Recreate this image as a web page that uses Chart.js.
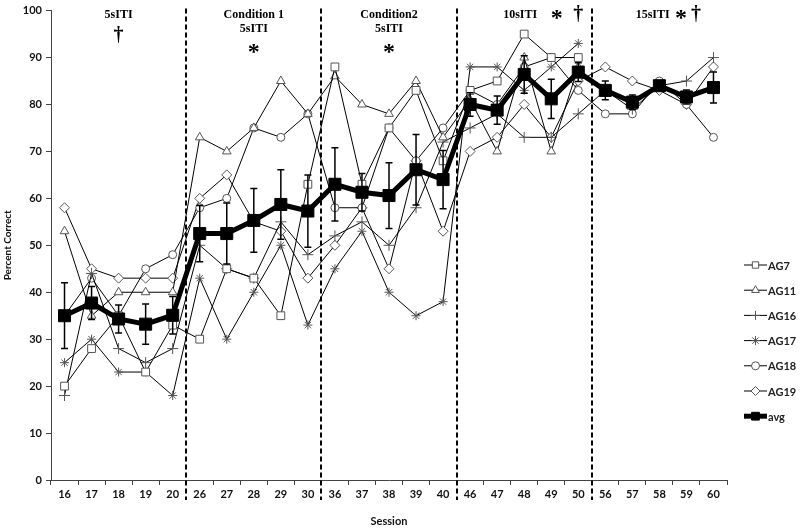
<!DOCTYPE html>
<html>
<head>
<meta charset="utf-8">
<script src="https://cdn.jsdelivr.net/npm/chart.js@4"></script>
<style>
  body { margin:0; background:#fff; }
  #wrap { width:800px; height:532px; }
</style>
</head>
<body>
<div id="wrap"><canvas id="myChart" width="800" height="532"></canvas></div>
<script>
// datos
const sesiones = ['16','17','18','19','20','26','27','28','29','30','36','37','38','39','40','46','47','48','49','50','56','57','58','59','60'];
const ag7  = [20,28,35,23,33, 30,45,43,35,63, 88,63,75,83,68, 83,85,95,90,90, null,null,null,null,null];
const ag11 = [53,35,40,40,40, 73,70,75,85,78, 86,80,78,85,73, 81,70,90,70,88, null,null,null,null,null];
const ag16 = [18,44,28,25,28, 50,45,43,55,48, 52,55,50,58,72, 75,78,73,73,78, 83,79,84,85,90];
const ag17 = [25,30,23,23,18, 43,30,40,50,33, 45,53,40,35,38, 88,88,83,88,93, null,null,null,null,null];
const ag18 = [35,43,35,45,48, 58,60,75,73,78, 58,58,75,68,75, 83,80,88,90,83, 78,78,85,80,73];
const ag19 = [58,45,43,43,43, 60,65,55,53,43, 50,58,45,68,53, 70,73,80,73,85, 88,85,83,80,88];
const promedio = [35,37.7,34.3,33.2,35.1, 52.5,52.5,55.3,58.7,57.3, 63,61.3,60.6,66.1,64, 80,78.8,86.4,81.2,86.9, 83,80.5,84,81.6,83.6];
const errores  = [7,3.5,3,4.3,4, 6,6.5,6.8,7.4,7.7, 7.8,4,7,7.5,6.2, 2.5,3,4,4.2,2, 2,1.5,1,1.5,3.3];
const yTicks = [0,10,20,30,40,50,60,70,80,90,100];

// separadores entre bloques (indice del ultimo punto del bloque)
const cortes = [4, 9, 14, 19];
// textos de arriba: [posicion en categorias, linea, tamaño]
const textosBloque = [
  {pos:2,     y:15, txt:'5sITI', size:12},
  {pos:2,     y:36, txt:'\u2020', size:20},
  {pos:7,     y:15, txt:'Condition 1', size:12},
  {pos:7,     y:29, txt:'5sITI', size:12},
  {pos:7,     y:53, txt:'*', size:24},
  {pos:12,    y:15, txt:'Condition2', size:12},
  {pos:12,    y:29, txt:'5sITI', size:12},
  {pos:12,    y:53, txt:'*', size:24},
  {pos:16.85, y:15, txt:'10sITI', size:12},
  {pos:18.2,  y:19, txt:'*', size:24},
  {pos:19,    y:15, txt:'\u2020', size:20},
  {pos:21.75, y:15, txt:'15sITI', size:12},
  {pos:22.8,  y:19, txt:'*', size:24},
  {pos:23.35, y:15, txt:'\u2020', size:20}
];

function serie(label, data, estilo, radio){
  return {
    label: label, data: data, order: 1,
    borderColor:'#000', borderWidth:1,
    pointStyle: estilo, pointRadius: radio, pointHoverRadius: radio,
    pointBackgroundColor:'#fff', pointBorderColor:'#555', pointBorderWidth:1,
    tension:0, spanGaps:false
  };
}

const barrasError = {
  id:'barrasError',
  afterDatasetsDraw(chart){
    const ctx = chart.ctx, x = chart.scales.x, y = chart.scales.y;
    ctx.save();
    ctx.strokeStyle = '#000';
    ctx.lineWidth = 1.5;
    promedio.forEach((v,i)=>{
      const px = x.getPixelForValue(i);
      const top = y.getPixelForValue(v + errores[i]);
      const bot = y.getPixelForValue(v - errores[i]);
      ctx.beginPath();
      ctx.moveTo(px, top); ctx.lineTo(px, bot);
      ctx.moveTo(px-3.5, top); ctx.lineTo(px+3.5, top);
      ctx.moveTo(px-3.5, bot); ctx.lineTo(px+3.5, bot);
      ctx.stroke();
    });
    ctx.restore();
  }
};

const decorado = {
  id:'decorado',
  afterDraw(chart){
    const ctx = chart.ctx, x = chart.scales.x, area = chart.chartArea;
    const paso = x.getPixelForValue(1) - x.getPixelForValue(0);
    ctx.save();
    // lineas punteadas
    ctx.strokeStyle = '#000';
    ctx.lineWidth = 2;
    ctx.setLineDash([5,3]);
    cortes.forEach(c=>{
      const px = Math.round(x.getPixelForValue(c) + paso/2);
      ctx.beginPath();
      ctx.moveTo(px, area.top - 2);
      ctx.lineTo(px, area.bottom + 20);
      ctx.stroke();
    });
    ctx.setLineDash([]);
    // textos de los bloques
    ctx.fillStyle = '#000';
    ctx.textAlign = 'center';
    ctx.textBaseline = 'middle';
    textosBloque.forEach(t=>{
      const px = x.getPixelForValue(0) + t.pos*paso;
      ctx.font = 'bold ' + t.size + 'px "Liberation Serif"';
      ctx.fillText(t.txt, px, t.y);
    });
    // leyenda a mano
    ctx.textAlign = 'left';
    ctx.font = 'bold 11px Lato';
    chart.data.datasets.forEach((ds,i)=>{
      const ly = 265 + i*25.2;
      ctx.strokeStyle = '#000';
      ctx.lineWidth = ds.borderWidth;
      ctx.beginPath();
      ctx.moveTo(744, ly); ctx.lineTo(767, ly);
      ctx.stroke();
      ctx.fillStyle = ds.pointBackgroundColor;
      ctx.strokeStyle = ds.pointBorderColor;
      ctx.lineWidth = 1;
      const r = ds.label === 'avg' ? 5.5 : Math.min(ds.pointRadius, 4.5);
      Chart.helpers.drawPoint(ctx, {pointStyle: ds.pointStyle, radius: r, rotation:0, borderWidth:1}, 755.5, ly);
      ctx.fillStyle = '#222';
      ctx.fillText(ds.label, 768, ly + 1);
    });
    ctx.restore();
  }
};

const ctx = document.getElementById('myChart').getContext('2d');
window.myChart = new Chart(ctx, {
  type:'line',
  data:{
    labels: sesiones,
    datasets:[
      serie('AG7',  ag7,  'rect', 5.5),
      serie('AG11', ag11, 'triangle', 5),
      serie('AG16', ag16, 'cross', 5.5),
      serie('AG17', ag17, 'star', 4.5),
      serie('AG18', ag18, 'circle', 4),
      serie('AG19', ag19, 'rectRot', 5),
      {
        label:'avg', data: promedio, order: 0,
        borderColor:'#000', borderWidth:5,
        pointStyle:'rect', pointRadius:8.5, pointHoverRadius:8.5,
        pointBackgroundColor:'#000', pointBorderColor:'#000', pointBorderWidth:1,
        tension:0
      }
    ]
  },
  plugins:[barrasError, decorado],
  options:{
    responsive:false,
    animation:false,
    layout:{ padding:{ left:0, right:73, top:10, bottom:0 } },
    plugins:{ legend:{ display:false }, tooltip:{ enabled:false } },
    scales:{
      x:{
        offset:true,
        grid:{ offset:true, drawOnChartArea:false, drawTicks:true, tickLength:5, color:'#444' },
        border:{ display:true, color:'#444', width:1 },
        ticks:{ color:'#111', font:{ family:'Lato', weight:'bold', size:11 }, padding:3, maxRotation:0, autoSkip:false },
        title:{ display:true, text:'Session', color:'#111', font:{ family:'Lato', weight:'bold', size:11 }, padding:{ top:0, bottom:4 } },
        afterFit(s){ s.height = 52; }
      },
      y:{
        min:0, max:100,
        afterBuildTicks(s){ s.ticks = yTicks.map(v=>({ value:v })); },
        grid:{ drawOnChartArea:false, drawTicks:true, tickLength:5, color:'#444' },
        border:{ display:true, color:'#444', width:1 },
        ticks:{ color:'#111', font:{ family:'Lato', weight:'bold', size:11 }, padding:4 },
        title:{ display:true, text:'Percent Correct', color:'#111', font:{ family:'Lato', weight:'bold', size:10 }, padding:{ top:2, bottom:0 } },
        afterFit(s){ s.width = 51; }
      }
    }
  }
});
</script>
</body>
</html>
